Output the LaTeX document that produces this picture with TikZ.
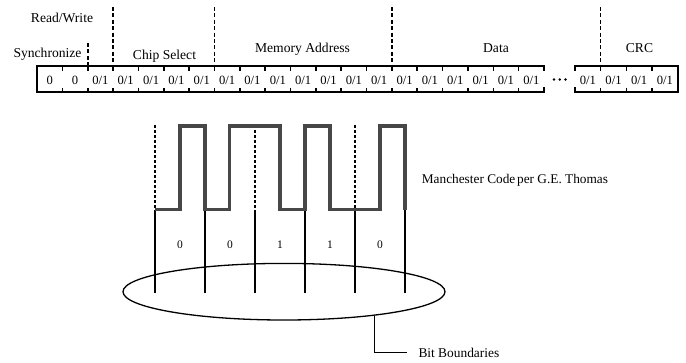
\documentclass[tikz,border=0pt]{standalone}
\usepackage{fontspec}
\setmainfont{Liberation Serif}
\begin{document}
\begin{tikzpicture}[x=1pt,y=-1pt,
  boxline/.style={line width=1.9pt,line cap=rect},
  tickline/.style={line width=1.6pt},
  sepline/.style={line width=1.6pt,dash pattern=on 4pt off 2.4pt},
  wave/.style={line width=3.6pt,draw=black!72,line join=miter},
  thindash/.style={line width=1.1pt,dash pattern=on 3pt off 2pt},
  bound/.style={line width=1.3pt},
  celltxt/.style={font=\fontsize{12.6}{14}\selectfont,inner sep=0pt},
  headtxt/.style={font=\fontsize{13.6}{15}\selectfont,inner sep=0pt,anchor=base},
  bittxt/.style={font=\fontsize{11.5}{13}\selectfont,inner sep=0pt},
  note/.style={font=\fontsize{13.4}{15}\selectfont,inner sep=0pt,anchor=west}]
\useasboundingbox (0,0) rectangle (686,362);
% register, part 1
\def\wa{25.35}
\def\wb{25.675}
\draw[boxline] (544,70) -- (544,66) -- (37,66) -- (37,92) -- (544,92) -- (544,88);
\foreach \i in {1,...,19}{
  \draw[tickline] ({37+\i*\wa},66) -- ({37+\i*\wa},70.5);
  \draw[tickline] ({37+\i*\wa},92) -- ({37+\i*\wa},87.5);
}
\foreach \i in {1,...,20}{
  \pgfmathsetmacro{\lbl}{\i<3 ? "0" : "0/1"}
  \node[celltxt] (c\i) at ({37+(\i-0.5)*\wa},80) {\lbl};
}
% register, part 2
\draw[boxline] (575,70) -- (575,66) -- (677.7,66) -- (677.7,92) -- (575,92) -- (575,88);
\foreach \i in {1,...,3}{
  \draw[tickline] ({575+\i*\wb},66) -- ({575+\i*\wb},70.5);
  \draw[tickline] ({575+\i*\wb},92) -- ({575+\i*\wb},87.5);
}
\foreach \i in {1,...,4}{
  \node[celltxt] (d\i) at ({575+(\i-0.5)*\wb},80) {0/1};
}
% ellipsis dots
\foreach \x in {554,559.7,565.4}{
  \fill (\x,79.5) circle[radius=1.35pt];
}
% field separators
\coordinate (s1) at ({37+2*\wa},43);
\coordinate (s2) at ({37+3*\wa},7);
\coordinate (s3) at ({37+7*\wa},7);
\coordinate (s4) at ({37+14*\wa},7);
\coordinate (s5) at ({575+\wb},7);
\draw[sepline] (s1) -- ({37+2*\wa},66);
\draw[sepline] (s2) -- ({37+3*\wa},66);
\draw[sepline] (s3) -- ({37+7*\wa},66);
\draw[sepline] (s4) -- ({37+14*\wa},66);
\draw[sepline] (s5) -- ({575+\wb},66);
% field labels
\node[headtxt] (rw) at (62,22) {Read/Write};
\node[headtxt] (sy) at (47.5,57.5) {Synchronize};
\node[headtxt] (cs) at (164.5,59.5) {Chip Select};
\node[headtxt] (ma) at (302.5,52.5) {Memory Address};
\node[headtxt] (da) at (496,52.5) {Data};
\node[headtxt] (cr) at (639.5,52.5) {CRC};
% Manchester waveform
\foreach \x in {155,255,355}{
  \draw[thindash] (\x,125) -- (\x,209.5);
}
\foreach \x [count=\k] in {155,205,255,305,355,405}{
  \coordinate (b\k) at (\x,292.7);
  \draw[bound] (\x,209.5) -- (b\k);
}
\draw[wave] (155,209.5) -- (180,209.5) -- (180,126) -- (205,126) -- (205,209.5)
  -- (229.5,209.5) -- (229.5,126) -- (280,126) -- (280,209.5) -- (305,209.5)
  -- (305,126) -- (330,126) -- (330,209.5) -- (380,209.5) -- (380,126)
  -- (405,126) -- (405,209.5);
\foreach \x/\v [count=\k] in {180/0,230/0,280/1,330/1,380/0}{
  \node[bittxt] (v\k) at (\x,245) {\v};
}
\node[note,font=\fontsize{13.3}{15}\selectfont] (mc) at (421.7,180.5) {Manchester Code\hspace{-1.5pt} per G.E. Thomas};
% bit boundaries
\draw[line width=1.3pt] (284,291.7) ellipse [x radius=161pt, y radius=28.3pt];
\coordinate (lead) at (374.3,315.6);
\node[note] (bb) at (418.3,352.5) {Bit Boundaries};
\draw[line width=1.3pt] (lead) |- ([xshift=-11.6pt]bb.west);
\end{tikzpicture}
\end{document}
